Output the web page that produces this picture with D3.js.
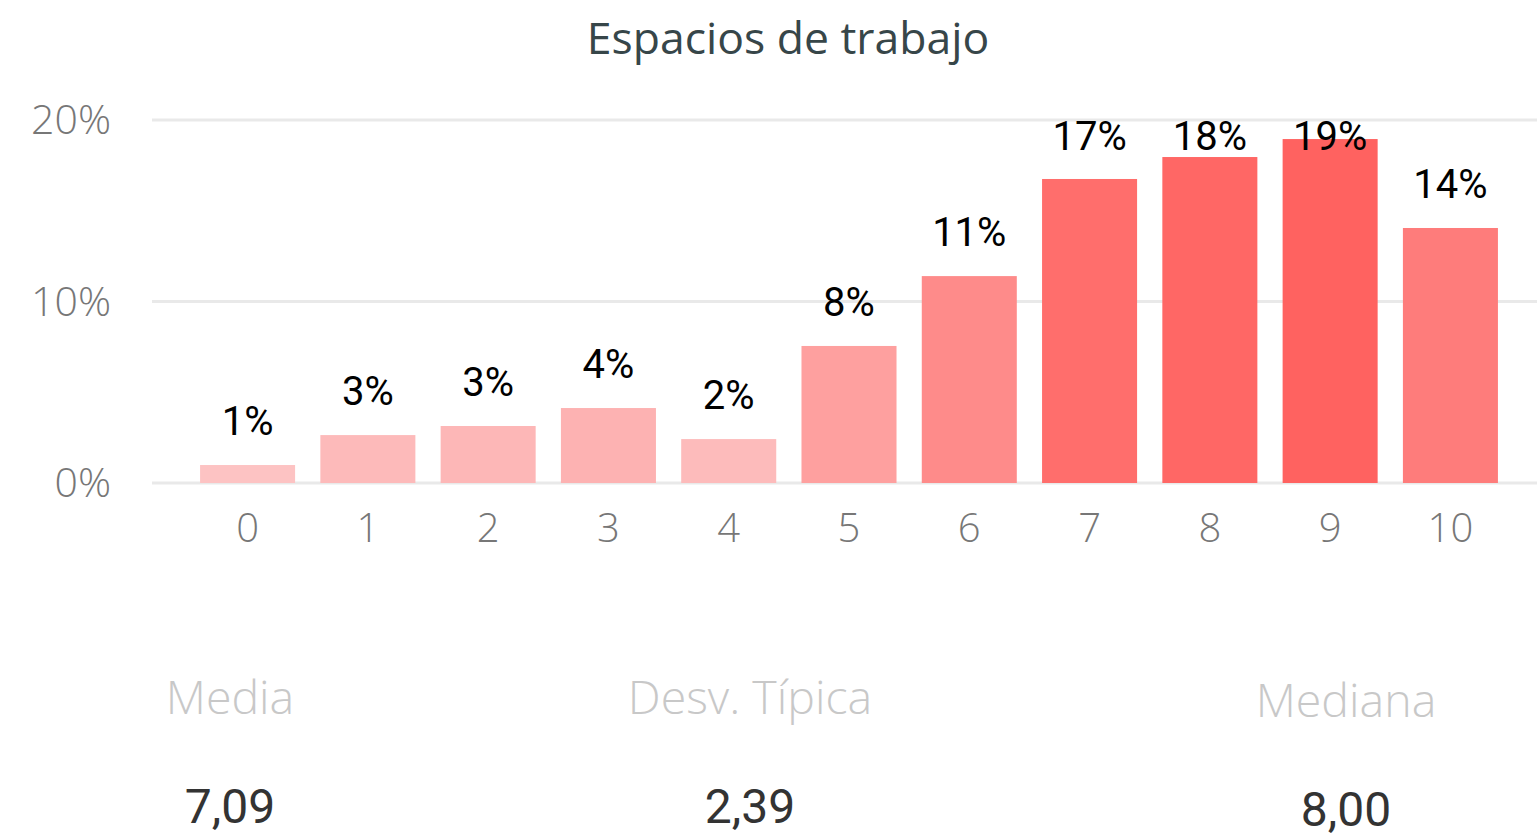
<!DOCTYPE html>
<html><head><meta charset="utf-8">
<script src="https://cdn.jsdelivr.net/npm/d3@7"></script>
<style>html,body{margin:0;padding:0;background:#fff;overflow:hidden}</style>
</head><body>
<script>
const categories = ["0","1","2","3","4","5","6","7","8","9","10"];
const values = [0.99, 2.64, 3.14, 4.13, 2.42, 7.55, 11.4, 16.75, 17.96, 18.95, 14.05];
const labels = ["1%","3%","3%","4%","2%","8%","11%","17%","18%","19%","14%"];
const yTicks = [0, 10, 20];
const statNames = ["Media", "Desv. Típica", "Mediana"];
const statValues = ["7,09", "2,39", "8,00"];
const title = "Espacios de trabajo";

const W = 1537, H = 838;
const svg = d3.select("body").append("svg").attr("width", W).attr("height", H);

const x = d3.scaleBand().domain(categories).range([170, 1528]).paddingInner(0.21).paddingOuter(0.25);
const y = d3.scaleLinear().domain([0, 20]).range([483, 120]);
const color = d3.scaleLinear().domain([d3.min(values), d3.max(values)]).range(["#FDC3C3", "#FF6260"]);

svg.append("text").attr("x", 788).attr("y", 54).attr("text-anchor", "middle")
  .attr("font-family", "'Open Sans', sans-serif").attr("font-size", 44.5).attr("fill", "#374649").text(title);

// gridlines
svg.append("g").selectAll("line").data(yTicks).join("line")
  .attr("x1", 152).attr("x2", W).attr("y1", d => y(d)).attr("y2", d => y(d))
  .attr("stroke", "#e9e9e9").attr("stroke-width", 3);

// y labels
svg.append("g").selectAll("text").data(yTicks).join("text")
  .attr("x", 111).attr("y", d => y(d)).attr("dy", "0.35em").attr("text-anchor", "end")
  .attr("font-family", "'Open Sans', sans-serif").attr("font-weight", 300).attr("font-size", 41).attr("fill", "#777")
  .text(d => d + "%");

// bars
svg.append("g").selectAll("rect").data(values).join("rect")
  .attr("x", (d, i) => x(categories[i])).attr("width", x.bandwidth())
  .attr("y", d => y(d)).attr("height", d => y(0) - y(d)).attr("fill", d => color(d));

// labels (clamped inside plot area)
svg.append("g").selectAll("text").data(values).join("text")
  .attr("x", (d, i) => x(categories[i]) + x.bandwidth() / 2).attr("y", d => Math.max(y(d) - 30, 150))
  .attr("text-anchor", "middle").attr("font-family", "Roboto, sans-serif").attr("font-size", 40)
  .attr("fill", "#000").text((d, i) => labels[i]);

// x labels
svg.append("g").selectAll("text").data(categories).join("text")
  .attr("x", d => x(d) + x.bandwidth() / 2).attr("y", 542).attr("text-anchor", "middle")
  .attr("font-family", "'Open Sans', sans-serif").attr("font-weight", 300).attr("font-size", 40).attr("fill", "#777")
  .text(d => d);

// stats
const statX = [230, 750, 1346];
const statY = [714, 714, 717];
svg.append("g").selectAll("text").data(statNames).join("text")
  .attr("x", (d, i) => statX[i]).attr("y", (d, i) => statY[i]).attr("text-anchor", "middle")
  .attr("font-family", "'Open Sans', sans-serif").attr("font-weight", 300).attr("font-size", 46.5).attr("fill", "#c8c8c8")
  .text(d => d);
svg.append("g").selectAll("text").data(statValues).join("text")
  .attr("x", (d, i) => statX[i]).attr("y", (d, i) => statY[i] + 109).attr("text-anchor", "middle")
  .attr("font-family", "Roboto, sans-serif").attr("font-size", 48).attr("fill", "#333")
  .text(d => d);
</script>
</body></html>
